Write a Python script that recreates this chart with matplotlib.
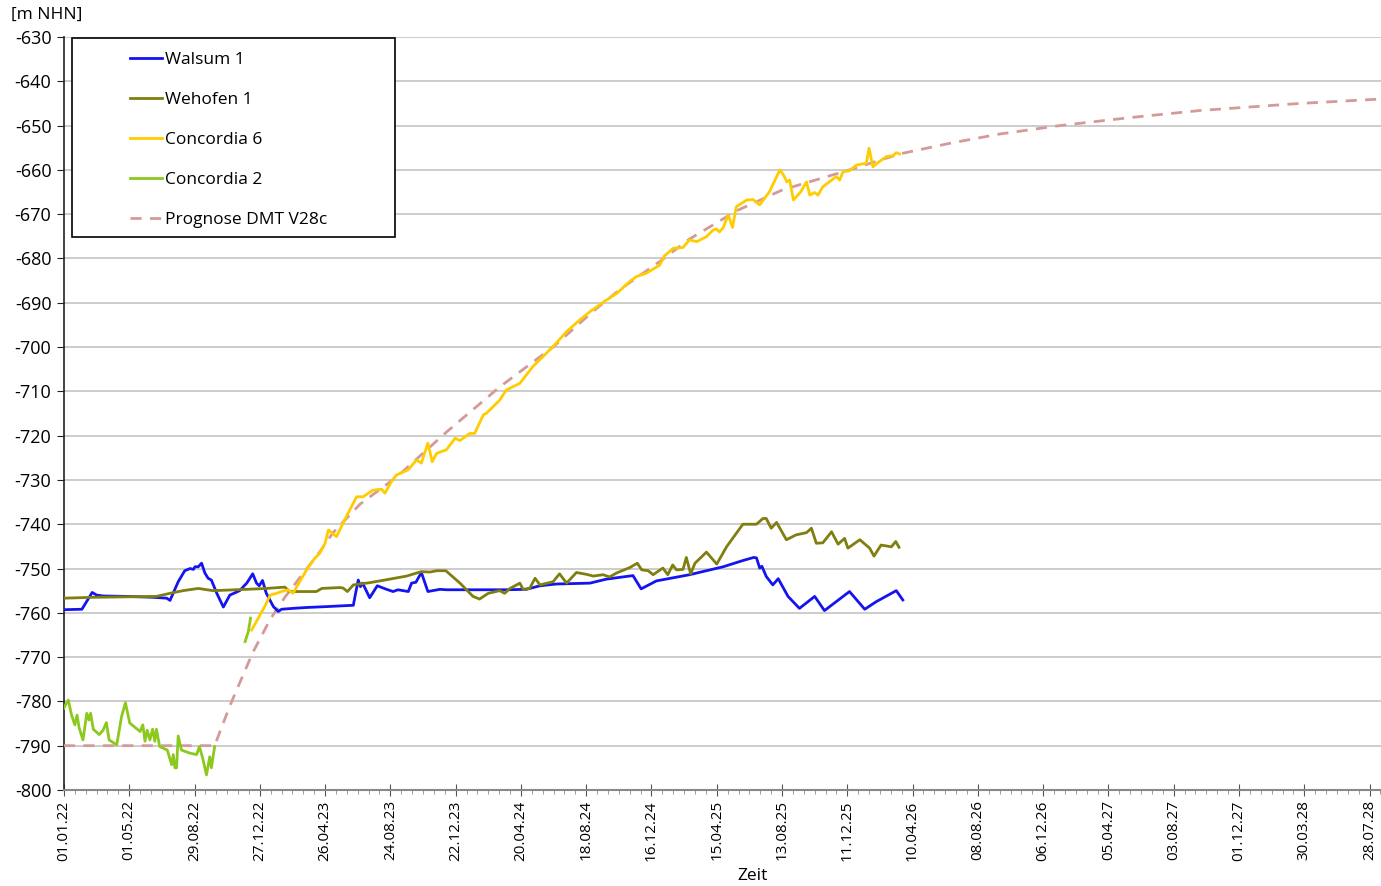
import matplotlib
matplotlib.use("Agg")
import matplotlib.pyplot as plt
import matplotlib.dates as mdates
from matplotlib.patches import Rectangle
import numpy as np
import datetime

# Grundwasserstand in [m NHN], Zeit als Tage ab 01.01.2022
start = datetime.date(2022, 1, 1)

walsum_days = [0, 33, 52, 60, 72, 115, 164, 189, 195, 210, 222, 232, 238, 241, 247, 253, 259, 265,
               271, 281, 293, 305, 323, 336, 347, 354, 359, 365, 372, 385, 394, 400, 421, 446, 483,
               532, 535, 541, 545, 549, 562, 576, 593, 605, 614, 633, 639, 647, 657, 669, 691, 703,
               813, 850, 875, 905, 967, 997, 1046, 1061, 1089, 1150, 1212, 1248, 1268, 1273, 1279,
               1283, 1291, 1303, 1313, 1331, 1352, 1380, 1398, 1444, 1472, 1493, 1530, 1542]
walsum_lvl = [-759.3, -759.2, -755.4, -756.0, -756.2, -756.3, -756.5, -756.7, -757.2, -753.0, -750.5,
              -750.0, -750.2, -749.6, -749.6, -748.8, -751.0, -752.2, -752.6, -755.6, -758.7, -756.0,
              -755.0, -753.3, -751.2, -753.3, -753.9, -752.7, -755.6, -758.6, -759.7, -759.2, -759.0,
              -758.8, -758.6, -758.3, -756.3, -752.6, -754.1, -753.3, -756.6, -753.9, -754.7, -755.2,
              -754.8, -755.2, -753.3, -753.1, -750.9, -755.2, -754.7, -754.8, -754.8, -754.7, -753.9,
              -753.5, -753.3, -752.4, -751.6, -754.6, -752.8, -751.4, -749.6, -748.2, -747.5, -747.6,
              -749.9, -749.5, -751.8, -753.7, -752.3, -756.3, -759.0, -756.3, -759.5, -755.2, -759.2,
              -757.5, -755.0, -757.1]

wehofen_days = [0, 54, 115, 170, 195, 219, 247, 274, 336, 372, 406, 415, 464, 474, 507, 513, 521, 532,
                562, 599, 630, 657, 673, 685, 702, 728, 752, 764, 780, 801, 810, 820, 838, 844, 856,
                866, 875, 899, 911, 924, 942, 960, 973, 991, 1003, 1016, 1040, 1054, 1062, 1074, 1083,
                1101, 1110, 1119, 1126, 1138, 1144, 1152, 1160, 1181, 1200, 1218, 1248, 1273, 1285,
                1291, 1300, 1310, 1328, 1346, 1365, 1374, 1383, 1395, 1411, 1423, 1435, 1441, 1463,
                1481, 1489, 1502, 1521, 1529, 1535]
wehofen_lvl = [-756.7, -756.5, -756.4, -756.3, -755.6, -755.0, -754.5, -755.0, -754.7, -754.5, -754.2,
               -755.2, -755.2, -754.5, -754.3, -754.4, -755.2, -753.7, -753.2, -752.4, -751.7, -750.7,
               -750.8, -750.5, -750.5, -753.3, -756.3, -756.9, -755.6, -755.0, -755.6, -754.5, -753.3,
               -754.7, -754.5, -752.2, -753.7, -753.0, -751.2, -753.3, -750.9, -751.3, -751.7, -751.4,
               -751.9, -751.0, -749.8, -748.8, -750.3, -750.5, -751.4, -749.9, -751.4, -749.2, -750.3,
               -750.2, -747.5, -751.2, -748.8, -746.3, -749.0, -745.1, -740.0, -740.0, -738.7, -738.7,
               -740.9, -739.6, -743.5, -742.4, -741.9, -740.9, -744.3, -744.2, -741.7, -744.5, -743.2,
               -745.4, -743.5, -745.4, -747.2, -744.7, -745.1, -743.9, -745.2]

conc6_days = [345, 369, 379, 391, 400, 412, 421, 446, 461, 470, 480, 486, 501, 519, 538, 550, 568, 584,
              590, 602, 611, 633, 648, 657, 669, 677, 685, 703, 719, 728, 746, 755, 771, 777, 801, 813,
              838, 862, 899, 924, 948, 967, 997, 1016, 1040, 1052, 1071, 1095, 1104, 1120, 1138, 1150,
              1163, 1181, 1193, 1199, 1205, 1212, 1221, 1229, 1236, 1255, 1267, 1279, 1297, 1316, 1322,
              1329, 1334, 1341, 1354, 1365, 1371, 1380, 1386, 1395, 1420, 1426, 1432, 1444, 1457, 1475,
              1480, 1487, 1499, 1512, 1524, 1530, 1536]
conc6_lvl = [-763.9, -758.6, -756.0, -755.6, -755.2, -754.8, -755.6, -750.3, -747.7, -746.6, -744.3,
             -741.3, -742.8, -738.3, -733.8, -733.8, -732.3, -732.1, -733.0, -730.4, -728.9, -727.7,
             -725.5, -726.2, -721.7, -725.9, -724.0, -723.2, -720.6, -721.1, -719.5, -719.5, -715.3,
             -714.9, -712.0, -709.7, -708.2, -704.4, -699.9, -696.5, -693.9, -692.0, -689.4, -687.9,
             -685.2, -684.1, -683.3, -681.5, -679.4, -677.7, -677.5, -675.8, -676.2, -675.1, -673.6,
             -673.3, -674.0, -673.0, -670.2, -673.0, -668.3, -666.8, -666.7, -667.9, -664.9, -660.0,
             -661.0, -662.7, -662.3, -666.8, -665.0, -662.7, -665.7, -665.1, -665.7, -663.8, -661.5,
             -662.3, -660.4, -660.2, -658.9, -658.5, -655.1, -659.3, -658.1, -657.0, -656.8, -656.1,
             -656.4]

# Concordia 2: Messlücke zwischen Tag 277 und 333
conc2_days = [0, 8, 14, 20, 24, 28, 35, 42, 46, 49, 54, 65, 72, 78, 83, 97, 106, 113, 121, 140, 145,
              149, 153, 158, 163, 167, 170, 176, 190, 198, 201, 204, 207, 210, 216, 232, 244, 249, 255,
              262, 268, 271, 277, 300, 333, 339, 343]
conc2_lvl = [-781.5, -779.7, -783.1, -785.3, -783.1, -786.0, -788.7, -782.7, -784.2, -782.7, -786.3,
             -787.5, -786.5, -784.8, -788.7, -789.8, -783.4, -780.3, -784.9, -786.8, -785.3, -789.0,
             -786.5, -788.7, -786.3, -789.0, -786.3, -790.2, -791.0, -794.3, -792.0, -795.0, -795.0,
             -787.8, -791.0, -791.7, -792.0, -790.2, -792.8, -796.6, -792.5, -795.0, -790.2, np.nan,
             -766.5, -764.2, -761.2]

prog_days = [0, 277, 305, 347, 379, 406, 434, 470, 494, 544, 612, 704, 801, 899, 972, 1022, 1095,
             1150, 1237, 1321, 1444, 1536, 1628, 1720, 1830, 1959, 2087, 2271, 2420]
prog_lvl = [-790.0, -790.0, -781.0, -769.0, -761.5, -756.5, -752.0, -746.3, -742.0, -735.5, -729.3,
            -719.1, -709.0, -700.0, -692.0, -687.0, -680.7, -675.6, -669.2, -664.5, -660.0, -656.4,
            -654.0, -651.9, -650.0, -648.2, -646.6, -645.0, -644.0]


def to_dates(days):
    return [start + datetime.timedelta(days=int(d)) for d in days]


plt.rcParams['font.family'] = ['Open Sans', 'DejaVu Sans']
plt.rcParams['axes.unicode_minus'] = False

fig = plt.figure(figsize=(13.81, 8.86), dpi=100)
ax = fig.add_axes([0.0463, 0.1084, 0.9537, 0.8498])

ax.plot(to_dates(walsum_days), walsum_lvl, color='#1414f0', lw=2.0, label='Walsum 1', zorder=4)
ax.plot(to_dates(wehofen_days), wehofen_lvl, color='#7f7f10', lw=2.0, label='Wehofen 1', zorder=4)
ax.plot(to_dates(conc6_days), conc6_lvl, color='#ffcc00', lw=2.0, label='Concordia 6', zorder=5)
ax.plot(to_dates(conc2_days), conc2_lvl, color='#8cc81e', lw=2.0, label='Concordia 2', zorder=4)
ax.plot(to_dates(prog_days), prog_lvl, color='#d49a9a', lw=2.0, ls=(0, (4, 3)),
        label='Prognose DMT V28c', zorder=3)

ax.set_ylim(-800, -630)
ax.set_yticks(np.arange(-800, -629, 10))
ax.set_xlim(start, start + datetime.timedelta(days=2421))

major = [start + datetime.timedelta(days=120 * k) for k in range(21)]
minor = [start + datetime.timedelta(days=20 * k) for k in range(122)]
ax.set_xticks(major)
ax.set_xticks(minor, minor=True)
ax.xaxis.set_major_formatter(mdates.DateFormatter('%d.%m.%y'))
plt.setp(ax.get_xticklabels(), rotation=90)

ax.grid(axis='y', color='#c8c8c8', lw=1.3)
ax.set_axisbelow(True)
for s in ['top', 'right']:
    ax.spines[s].set_visible(False)
ax.spines['left'].set_color('#222222')
ax.spines['bottom'].set_color('#888888')
ax.spines['left'].set_linewidth(1.2)
ax.spines['bottom'].set_linewidth(1.5)

ax.tick_params(axis='y', labelsize=13, length=5, color='#222222', pad=4)
ax.tick_params(axis='x', which='major', labelsize=11, direction='inout', length=8, color='#555555')
ax.tick_params(axis='x', which='minor', direction='out', length=3, color='#888888')

# Legendenrahmen separat, damit links und rechts mehr Platz bleibt
box = Rectangle((0.0521, 0.7325), 0.2339, 0.2246, transform=fig.transFigure,
                facecolor='white', edgecolor='black', lw=1.2, zorder=6)
ax.add_patch(box)
leg = ax.legend(loc='upper left', bbox_to_anchor=(0.0941, 0.9413),
                bbox_transform=fig.transFigure, fontsize=12.5, frameon=False,
                borderpad=0.0, labelspacing=1.37, handlelength=1.84, handletextpad=0.17,
                borderaxespad=0.0)
leg.set_zorder(7)

fig.text(0.008, 0.983, '[m NHN]', fontsize=12.5, ha='left', va='center')
fig.text(0.545, 0.0113, 'Zeit', fontsize=12.5, ha='center', va='center')

fig.savefig('out.png', dpi=100)
